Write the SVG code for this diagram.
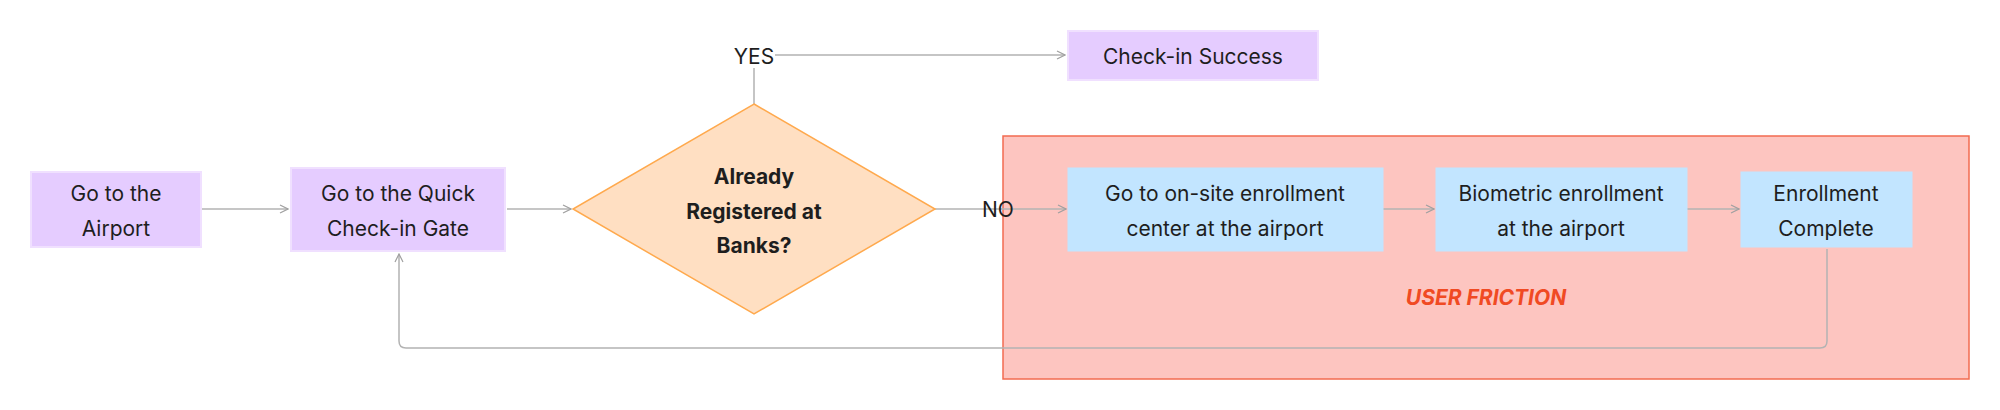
<svg xmlns="http://www.w3.org/2000/svg" width="2000" height="410" viewBox="0 0 2000 410">
<style>
text{font-family:Inter,"Noto Sans",sans-serif;font-size:21px;fill:#1e1e1e;text-anchor:middle;dominant-baseline:central}
.p{fill:#e5ccff;stroke:#f0e0ff;stroke-width:2}
.b{fill:#c2e5ff;stroke:#c2e5ff}
.c{fill:none;stroke:#b3b3b3;stroke-width:1.5}
</style>
<defs><marker id="a" viewBox="0 0 10 10" refX="9" refY="5" markerWidth="10" markerHeight="10" markerUnits="userSpaceOnUse" orient="auto"><path d="M1 1L9 5L1 9" fill="none" stroke="#a0a0a0" stroke-width="1.2"/></marker></defs>
<g id="friction"><rect x="1003" y="136" width="966" height="243" fill="#fdc5c0" stroke="#f26b50" stroke-width="1.5"/><text x="1486" y="297" style="font-weight:bold;font-style:italic;fill:#f04a23">USER FRICTION</text></g>
<g id="connectors">
<path class="c" d="M202 209H288" stroke="#8a8a8a" marker-end="url(#a)"/>
<path class="c" d="M507 209H571" marker-end="url(#a)"/>
<path class="c" d="M754 104V55H1065" marker-end="url(#a)"/>
<path class="c" d="M935 209H1066" marker-end="url(#a)"/>
<path class="c" d="M1383 209H1434" marker-end="url(#a)"/>
<path class="c" d="M1687 209H1739" marker-end="url(#a)"/>
<path class="c" d="M1827 249V341Q1827 348 1820 348H406Q399 348 399 341V254" stroke-width="2" marker-end="url(#a)"/>
<rect x="733" y="42" width="42" height="26" fill="#fff"/><text x="754" y="56">YES</text>
<text x="998" y="209">NO</text>
</g>
<g id="n1"><rect class="p" x="31" y="172" width="170" height="75"/><text x="116" y="193">Go to the</text><text x="116" y="228">Airport</text></g>
<g id="n2"><rect class="p" x="291" y="168" width="214" height="83"/><text x="398" y="193">Go to the Quick</text><text x="398" y="228">Check-in Gate</text></g>
<g id="n3"><path d="M754 104L935 209L754 314L573 209Z" fill="#ffdfc2" stroke="#ffa94d" stroke-width="1.5"/><text x="754" y="176" style="font-weight:bold">Already</text><text x="754" y="211" style="font-weight:bold">Registered at</text><text x="754" y="245" style="font-weight:bold">Banks?</text></g>
<g id="n4"><rect class="p" x="1068" y="31" width="250" height="49"/><text x="1193" y="56">Check-in Success</text></g>
<g id="n5"><rect class="b" x="1068" y="168" width="315" height="83"/><text x="1225" y="193">Go to on-site enrollment</text><text x="1225" y="228">center at the airport</text></g>
<g id="n6"><rect class="b" x="1436" y="168" width="251" height="83"/><text x="1561" y="193">Biometric enrollment</text><text x="1561" y="228">at the airport</text></g>
<g id="n7"><rect class="b" x="1741" y="172" width="171" height="75"/><text x="1826" y="193">Enrollment</text><text x="1826" y="228">Complete</text></g>
</svg>
